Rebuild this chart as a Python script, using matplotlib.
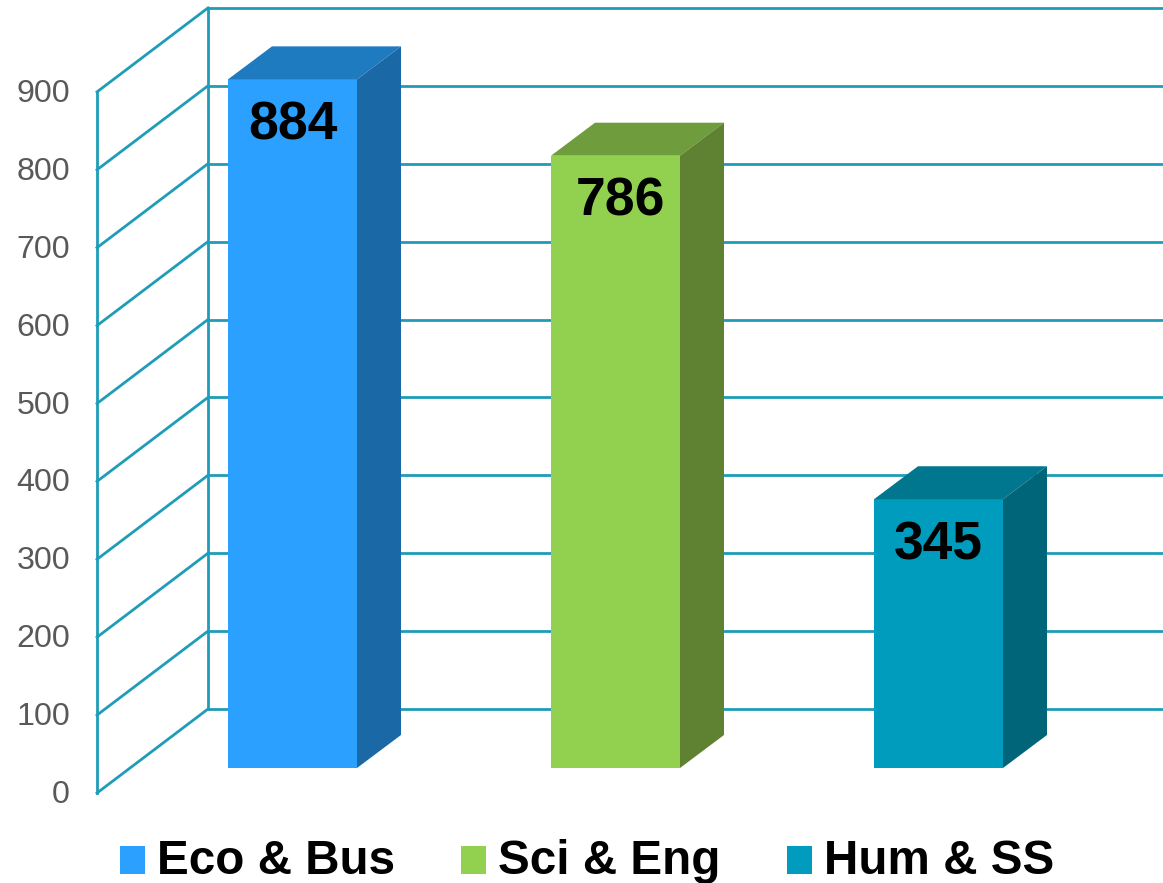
import matplotlib
matplotlib.use("Agg")
import matplotlib.pyplot as plt
from matplotlib.patches import Patch, Polygon
import numpy as np

plt.rcParams["font.family"] = ["Liberation Sans", "DejaVu Sans"]

# Data
categories = ["Eco & Bus", "Sci & Eng", "Hum & SS"]
values = [884, 786, 345]
ticks = [0, 100, 200, 300, 400, 500, 600, 700, 800, 900]

front_colors = ["#2BA0FF", "#92D14F", "#009CBD"]
top_colors = ["#1F7BC0", "#6F9C3D", "#00778F"]
side_colors = ["#1A68A5", "#5E8231", "#006579"]
wall_color = "#1F9DB8"

# Pixel scales of the picture
W, H = 1163, 883
px_per_cat = 323.0
px_per_val = 0.779
x0_px = 292.5   # centre of the first bar
y0_px = 768.0   # bottom of the bars

dx = 44.0/px_per_cat     # depth of a bar
dy = 33.0/px_per_val
bar_w = 129.0/px_per_cat
wall_dx = 111.0/px_per_cat    # depth of the side wall
wall_dy = 84.0/px_per_val
wall_x = (97.0 - x0_px)/px_per_cat
wall_y = (y0_px - 793.0)/px_per_val

fig = plt.figure(figsize=(W/100, H/100), dpi=100)
ax = fig.add_axes([0, 0, 1, 1])
ax.set_xlim(-x0_px/px_per_cat, (W - x0_px)/px_per_cat)
ax.set_ylim((y0_px - H)/px_per_val, y0_px/px_per_val)
ax.axis("off")

# Side wall and back wall
wall = dict(color=wall_color, lw=2.0, zorder=1, solid_capstyle="projecting")
ax.plot([wall_x, wall_x], [wall_y, wall_y + ticks[-1]], **wall)
ax.plot([wall_x + wall_dx]*2, [wall_y + wall_dy, wall_y + wall_dy + ticks[-1]], **wall)
for t in ticks:
    ax.plot([wall_x, wall_x + wall_dx], [wall_y + t, wall_y + t + wall_dy], **wall)
    ax.plot([wall_x + wall_dx, ax.get_xlim()[1]], [wall_y + t + wall_dy]*2, **wall)
    ax.annotate(str(t), (wall_x, wall_y + t), xytext=(-27*0.72, -2*0.72),
                textcoords="offset points", ha="right", va="center",
                fontsize=23.2, color="#595959")

# Bars
xs = np.arange(len(values))
ax.bar(xs, values, width=bar_w, color=front_colors, zorder=3)
for x, v, top, side in zip(xs, values, top_colors, side_colors):
    l, r = x - bar_w/2, x + bar_w/2
    ax.add_patch(Polygon([(l, v), (r, v), (r + dx, v + dy), (l + dx, v + dy)],
                         facecolor=top, edgecolor="none", zorder=3))
    ax.add_patch(Polygon([(r, 0), (r + dx, dy), (r + dx, v + dy), (r, v)],
                         facecolor=side, edgecolor="none", zorder=3))

# Value labels
label_shift = [0, 5, 0]
for x, v, s in zip(xs, values, label_shift):
    ax.annotate(str(v), (x, v), xytext=(s*0.72, -46*0.72), textcoords="offset points",
                ha="center", va="center", fontsize=38.5, fontweight="bold",
                color="black", zorder=4)

# Legend
handles = [Patch(facecolor=c, edgecolor="none") for c in front_colors]
leg = ax.legend(handles, categories, ncol=3, frameon=False, loc="lower left",
                bbox_to_anchor=(120/W, -1.0/H), borderpad=0, borderaxespad=0,
                handlelength=0.525, handleheight=0.525, handletextpad=0.25, columnspacing=1.39,
                prop=dict(size=34.3, weight="bold"))
# squares sit a little lower than the text
for p in leg.get_patches():
    p.set_y(p.get_y() - 2.0)

fig.savefig("out.png", dpi=100)
